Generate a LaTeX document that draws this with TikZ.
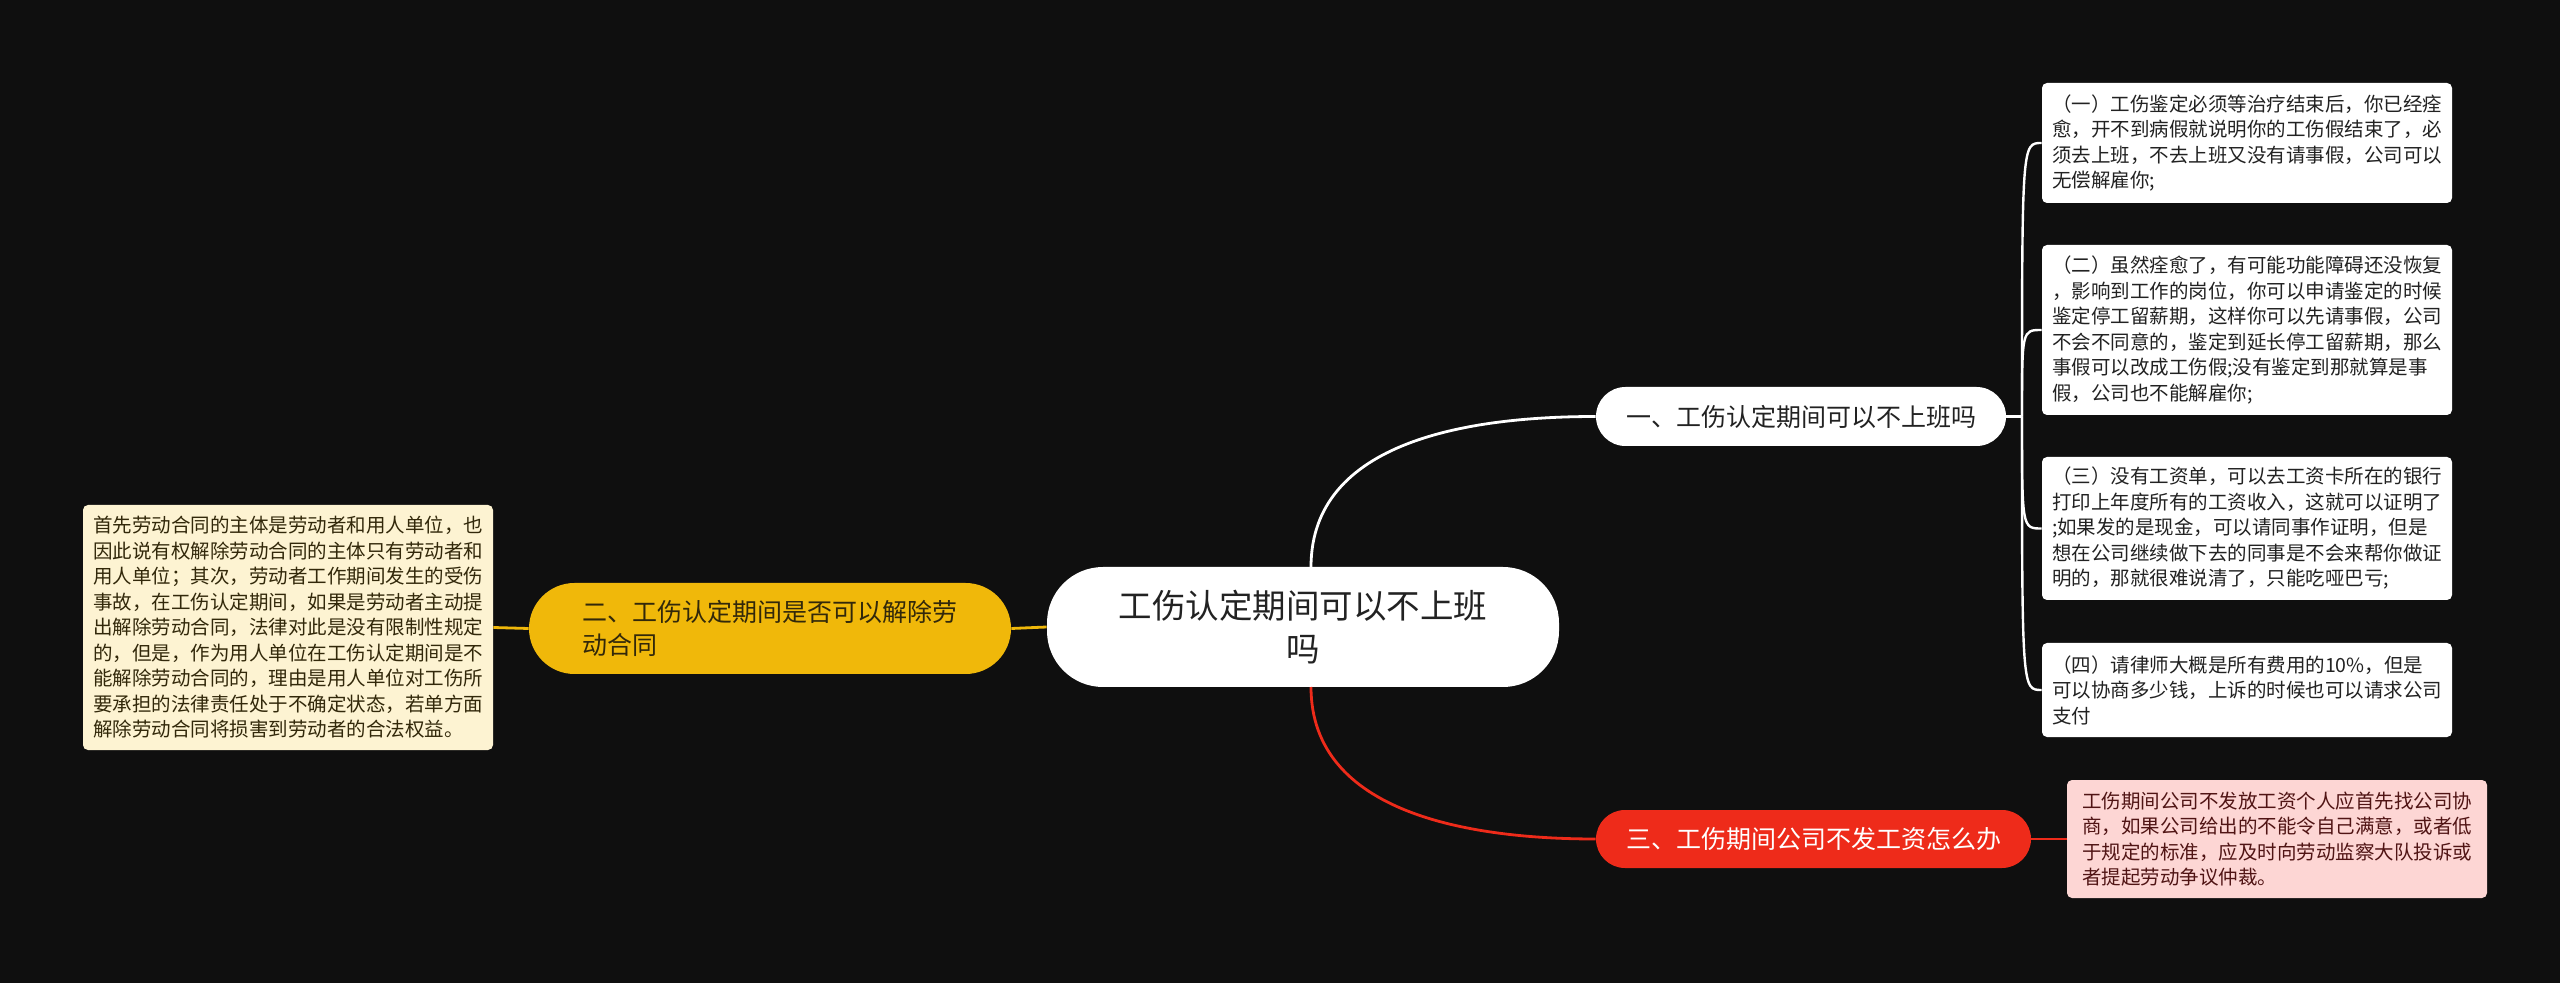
\documentclass[tikz,border=0pt]{standalone}
\usepackage{fontspec}
\setmainfont{Noto Sans CJK SC}
\definecolor{bgc}{RGB}{15,15,15}
\definecolor{ylw}{RGB}{240,184,10}
\definecolor{rd}{RGB}{238,43,26}
\definecolor{pinkf}{RGB}{253,214,212}
\definecolor{pinkt}{RGB}{80,20,20}
\definecolor{creamf}{RGB}{253,243,210}
\definecolor{creamt}{RGB}{50,40,10}
\definecolor{dk}{RGB}{34,34,34}
\begin{document}
\begin{tikzpicture}[x=0.5pt,y=-0.5pt,
  leafbox/.style={rounded corners=2.5pt, minimum width=205pt, align=left, inner sep=0pt,
    font=\fontsize{9.75}{12.75}\selectfont},
  whiteleaf/.style={leafbox, fill=white, text=dk},
  pill/.style={inner sep=0pt, align=left},
  wline/.style={draw=white, line width=1.4pt},
  yline/.style={draw=ylw, line width=1.4pt},
  rline/.style={draw=rd, line width=1.4pt}]
\fill[bgc] (0,0) rectangle (2560,983);
\useasboundingbox (0,0) rectangle (2560,983);

% central node
\node[pill, fill=white, text=dk, minimum width=256pt, minimum height=60pt, rounded corners=28pt,
  align=center, font=\fontsize{16.75}{21.2}\selectfont] (c) at (1303,627) {工伤认定期间可以不上班\\吗};

% branches
\node[pill, fill=white, text=dk, minimum width=205pt, minimum height=29.5pt, rounded corners=14.75pt,
  font=\fontsize{12.5}{15}\selectfont] (b1) at (1801,416.5) {一、工伤认定期间可以不上班吗};
\node[pill, fill=ylw, text=creamt, minimum width=241pt, minimum height=45.5pt, rounded corners=22.75pt,
  font=\fontsize{12.5}{16.5}\selectfont] (b2) at (770,628.5) {二、工伤认定期间是否可以解除劳\\动合同};
\node[pill, fill=rd, text=white, minimum width=217.5pt, minimum height=29pt, rounded corners=14.5pt,
  font=\fontsize{12.5}{15}\selectfont] (b3) at (1813.5,839) {三、工伤期间公司不发工资怎么办};

% right leaves
\node[whiteleaf, minimum height=60pt] (l1) at (2247,143) {（一）工伤鉴定必须等治疗结束后，你已经痊\\愈，开不到病假就说明你的工伤假结束了，必\\须去上班，不去上班又没有请事假，公司可以\\无偿解雇你;};
\node[whiteleaf, minimum height=85pt] (l2) at (2247,330) {（二）虽然痊愈了，有可能功能障碍还没恢复\\，影响到工作的岗位，你可以申请鉴定的时候\\鉴定停工留薪期，这样你可以先请事假，公司\\不会不同意的，鉴定到延长停工留薪期，那么\\事假可以改成工伤假;没有鉴定到那就算是事\\假，公司也不能解雇你;};
\node[whiteleaf, minimum height=71.5pt] (l3) at (2247,528.5) {（三）没有工资单，可以去工资卡所在的银行\\打印上年度所有的工资收入，这就可以证明了\\;如果发的是现金，可以请同事作证明，但是\\想在公司继续做下去的同事是不会来帮你做证\\明的，那就很难说清了，只能吃哑巴亏;};
\node[whiteleaf, minimum height=47pt] (l4) at (2247,690) {（四）请律师大概是所有费用的10\%，但是\\可以协商多少钱，上诉的时候也可以请求公司\\支付};
\node[leafbox, fill=pinkf, text=pinkt, minimum width=210pt, minimum height=59pt] (l5) at (2277,839) {工伤期间公司不发放工资个人应首先找公司协\\商，如果公司给出的不能令自己满意，或者低\\于规定的标准，应及时向劳动监察大队投诉或\\者提起劳动争议仲裁。};

% left leaf
\node[leafbox, fill=creamf, text=creamt, minimum height=122.5pt] (l0) at (288,627.5) {首先劳动合同的主体是劳动者和用人单位，也\\因此说有权解除劳动合同的主体只有劳动者和\\用人单位；其次，劳动者工作期间发生的受伤\\事故，在工伤认定期间，如果是劳动者主动提\\出解除劳动合同，法律对此是没有限制性规定\\的，但是，作为用人单位在工伤认定期间是不\\能解除劳动合同的，理由是用人单位对工伤所\\要承担的法律责任处于不确定状态，若单方面\\解除劳动合同将损害到劳动者的合法权益。};

% connectors
\coordinate (s1) at (1311,567);
\coordinate (s3) at (1311,687);
\draw[wline] (s1) .. controls (1311,440) and (1471,416.5) .. (b1.west);
\draw[rline] (s3) .. controls (1311,814) and (1471,839) .. (b3.west);
\draw[yline] (c.west) -- (b2.east);
\draw[yline] (b2.west) -- (l0.east);
\draw[rline] (b3.east) -- (l5.west);

\coordinate (j) at (2022,416.5);
\draw[wline] (b1.east) -- (j);
\foreach \l in {l1,l2,l3,l4}{
  \draw[wline, line width=1.2pt] (j) .. controls (j |- \l.west) and (j |- \l.west) .. (\l.west);
}
\end{tikzpicture}
\end{document}
